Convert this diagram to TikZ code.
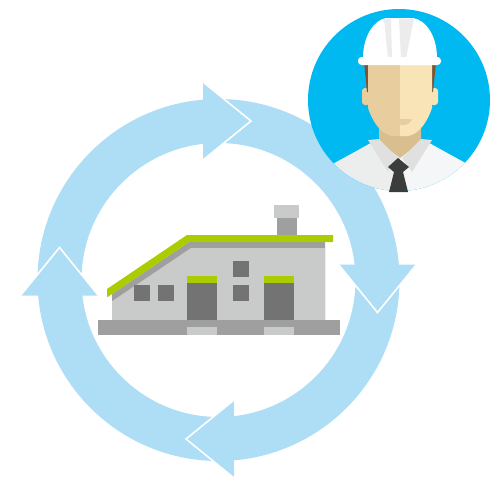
\documentclass[tikz,border=0pt]{standalone}
\begin{document}
\definecolor{ringblue}{RGB}{174,222,246}
\definecolor{skyblue}{RGB}{0,185,240}
\definecolor{roofgreen}{RGB}{170,204,0}
\definecolor{walllight}{RGB}{201,202,202}
\definecolor{wallmid}{RGB}{158,159,158}
\definecolor{walldark}{RGB}{115,115,115}
\definecolor{skindark}{RGB}{232,206,158}
\definecolor{skinlight}{RGB}{249,228,183}
\definecolor{neckcol}{RGB}{217,191,144}
\definecolor{haircol}{RGB}{123,85,52}
\definecolor{shirtl}{RGB}{236,237,237}
\definecolor{shirtr}{RGB}{245,246,247}
\definecolor{collarcol}{RGB}{224,224,224}
\definecolor{tiecol}{RGB}{59,60,60}
\definecolor{helmetgray}{RGB}{236,236,236}
\begin{tikzpicture}[x=1pt,y=-1pt,
  ringfill/.style={fill=ringblue},
  tipedge/.style={draw=white,line width=1.6pt,line join=miter},
  houselight/.style={fill=walllight},
  housemid/.style={fill=wallmid},
  housedark/.style={fill=walldark},
  housegreen/.style={fill=roofgreen}]
\useasboundingbox (0,0) rectangle (490,480);

% cycle ring
\coordinate (c) at (218.5,280);
\fill[ringfill,even odd rule] (c) circle (181pt) (c) circle (137pt);

% arrowheads, each with a white rim on its leading edges
\fill[ringfill] (203,82) -- (251,121) -- (203,160) -- cycle;
\draw[tipedge] (203,82) -- (251,121) -- (203,160);
\fill[ringfill] (416.5,264.5) -- (377.5,312.5) -- (338.5,264.5) -- cycle;
\draw[tipedge] (416.5,264.5) -- (377.5,312.5) -- (338.5,264.5);
\fill[ringfill] (234,478) -- (186,439) -- (234,400) -- cycle;
\draw[tipedge] (234,478) -- (186,439) -- (234,400);
\fill[ringfill] (20.5,295.5) -- (59.5,247.5) -- (98.5,295.5) -- cycle;
\draw[tipedge] (20.5,295.5) -- (59.5,247.5) -- (98.5,295.5);

% factory building
\fill[housemid] (277,218) rectangle (297,237);
\fill[houselight] (274,205) rectangle (299,218);
\fill[housemid] (112,320) -- (112,294) -- (189,242) -- (325,242) -- (325,320) -- cycle;
\fill[houselight] (112,320) -- (112,301.3) -- (191,248) -- (325,248) -- (325,320) -- cycle;
\fill[housegreen] (107,289) -- (187,235) -- (333,235) -- (333,242) -- (189,242) -- (107,297.4) -- cycle;
\fill[housedark] (134,285) rectangle (150,301);
\fill[housedark] (158,285) rectangle (174,301);
\fill[housedark] (233,261) rectangle (249,277);
\fill[housedark] (233,285) rectangle (249,301);
\fill[housegreen] (187,276) rectangle (217,283);
\fill[housedark] (187,283) rectangle (217,321);
\fill[housegreen] (264,276) rectangle (294,283);
\fill[housedark] (264,283) rectangle (294,321);
\fill[housemid] (98,320) rectangle (340,335);
\fill[houselight] (187,327) rectangle (217,335);
\fill[houselight] (264,327) rectangle (294,335);

% engineer badge
\coordinate (p) at (399,100);
\fill[skyblue] (p) circle (91pt);
\begin{scope}
  \clip (p) circle (91pt);
  % shirt
  \fill[shirtl] (300,200) -- (318,172) .. controls (340,160) and (362,148) .. (376,140) -- (400,140) -- (400,200) -- cycle;
  \fill[shirtr] (500,200) -- (482,172) .. controls (460,160) and (438,148) .. (424,140) -- (400,140) -- (400,200) -- cycle;
\end{scope}
% neck
\fill[neckcol] (379,122) -- (421,122) -- (421,142) -- (400,158) -- (379,142) -- cycle;
% collar
\fill[collarcol] (368,140) -- (379,139) -- (398,158) -- (388,172) -- cycle;
\fill[collarcol] (432,140) -- (421,139) -- (402,158) -- (412,172) -- cycle;
% tie
\fill[tiecol] (398,158) -- (409,167) -- (403,172) -- (394,172) -- (388,167) -- cycle;
\fill[tiecol] (394,172) -- (403,172) -- (408,192) -- (389,192) -- cycle;
% ears
\fill[skindark, rounded corners=3pt] (362,88) rectangle (370,105);
\fill[skinlight, rounded corners=3pt] (430,88) rectangle (438,105);
% hair
\fill[haircol] (364,62) -- (372,62) -- (371,92) -- (367,92) -- cycle;
\fill[haircol] (428,62) -- (436,62) -- (433,92) -- (429,92) -- cycle;
% face
\fill[skindark] (400,62) -- (368,62) -- (368,108) .. controls (372,120) and (380,134) .. (392,136) -- (400,136) -- cycle;
\fill[skinlight] (400,62) -- (432,62) -- (432,108) .. controls (428,120) and (420,134) .. (408,136) -- (400,136) -- cycle;
\fill[skindark] (400,119) -- (412,119) .. controls (411,123) and (407,125) .. (403,125) -- (400,125) -- cycle;
% helmet
\fill[white] (363,58) .. controls (363,36) and (374,20) .. (386,18) -- (413,18) .. controls (426,20) and (437,36) .. (437,58) -- cycle;
\fill[helmetgray] (384,19) -- (391,19) -- (392,58) -- (388,58) -- cycle;
\fill[helmetgray] (399,19) -- (414,19) -- (406,58) -- (401,58) -- cycle;
\fill[white, rounded corners=3.5pt] (358,57) rectangle (441,65);
\end{tikzpicture}
\end{document}
